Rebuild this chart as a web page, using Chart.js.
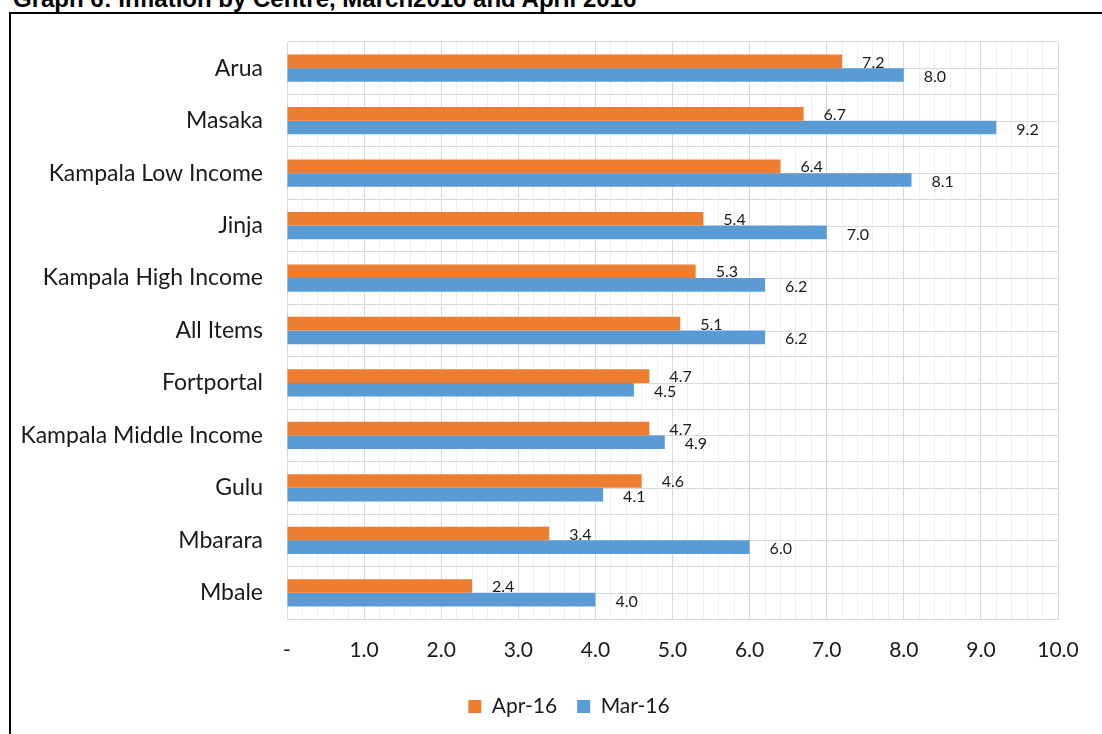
<!DOCTYPE html>
<html>
<head>
<meta charset="utf-8">
<script src="https://cdn.jsdelivr.net/npm/chart.js@4/dist/chart.umd.min.js"></script>
<style>
  html, body { margin: 0; padding: 0; background: #fff; overflow: hidden; }
  #wrap { position: relative; width: 1102px; height: 734px; overflow: hidden; }
  #title { position: absolute; left: 13px; top: -13px; font: bold 24px/1 "Liberation Sans", Arial, sans-serif; color: #000; white-space: nowrap; }
  #frame { position: absolute; left: 9px; top: 12px; width: 1200px; height: 800px; border-left: 2px solid #000; border-top: 2px solid #000; }
  canvas { position: absolute; left: 0; top: 0; }
</style>
</head>
<body>
<div id="wrap">
  <div id="title">Graph 6: Inflation by Centre, March2016 and April 2016</div>
  <div id="frame"></div>
  <canvas id="c" width="1102" height="734"></canvas>
</div>
<script>
const categories = ["Arua", "Masaka", "Kampala Low Income", "Jinja", "Kampala High Income", "All Items", "Fortportal", "Kampala Middle Income", "Gulu", "Mbarara", "Mbale"];
const apr16 = [7.2, 6.7, 6.4, 5.4, 5.3, 5.1, 4.7, 4.7, 4.6, 3.4, 2.4];
const mar16 = [8.0, 9.2, 8.1, 7.0, 6.2, 6.2, 4.5, 4.9, 4.1, 6.0, 4.0];
const seriesNames = ["Apr-16", "Mar-16"];
const xMin = 0, xMax = 10, xStep = 0.2;

const FONT = "Lato, 'Open Sans', sans-serif";
const isMajor = v => Math.abs(v - Math.round(v)) < 1e-6;

const centerLines = {
  id: 'centerLines',
  beforeDatasetsDraw(chart) {
    const {ctx, chartArea: a, scales: {y}} = chart;
    ctx.save();
    ctx.strokeStyle = '#d9d9d9';
    ctx.lineWidth = 1;
    categories.forEach((c, i) => {
      const py = Math.round(y.getPixelForValue(i)) + 0.5;
      ctx.beginPath();
      ctx.moveTo(a.left, py);
      ctx.lineTo(a.right, py);
      ctx.stroke();
    });
    ctx.restore();
  }
};

const dataLabels = {
  id: 'dataLabels',
  afterDatasetsDraw(chart) {
    const {ctx} = chart;
    ctx.save();
    ctx.font = "16px " + FONT;
    ctx.fillStyle = '#1a1a1a';
    ctx.textAlign = 'left';
    ctx.textBaseline = 'middle';
    chart.data.datasets.forEach((ds, di) => {
      const meta = chart.getDatasetMeta(di);
      meta.data.forEach((bar, i) => {
        const dy = di === 0 ? 1 : 2;
        ctx.fillText(ds.data[i].toFixed(1), bar.x + 20, bar.y + dy);
      });
    });
    ctx.restore();
  }
};

// shift the legend block slightly right, as in the original
const legendShift = {
  id: 'legendShift',
  afterLayout(chart) {
    const l = chart.legend;
    if (l) { l.left += 40; l.right += 40; }
  }
};

new Chart(document.getElementById('c'), {
  type: 'bar',
  data: {
    labels: categories,
    datasets: [
      { label: seriesNames[0], data: apr16, backgroundColor: '#ED7D31', categoryPercentage: 0.52, barPercentage: 1.0 },
      { label: seriesNames[1], data: mar16, backgroundColor: '#5B9BD5', categoryPercentage: 0.52, barPercentage: 1.0 }
    ]
  },
  options: {
    indexAxis: 'y',
    responsive: false,
    animation: false,
    layout: { padding: { left: 0, right: 44, top: 42, bottom: 7 } },
    plugins: {
      legend: {
        position: 'bottom',
        labels: { boxWidth: 13, boxHeight: 13, font: { family: FONT, size: 21 }, color: '#1a1a1a', padding: 20 }
      },
      tooltip: { enabled: false }
    },
    scales: {
      x: {
        min: xMin, max: xMax,
        afterFit(s) { s.height = 57; },
        ticks: {
          stepSize: xStep, autoSkip: false, maxRotation: 0, padding: 19,
          color: '#1a1a1a', font: { family: FONT, size: 21 },
          callback: v => isMajor(v) ? (Math.round(v) === 0 ? '-' : Number(v).toFixed(1)) : ''
        },
        grid: {
          drawTicks: false,
          color: c => (c.tick && isMajor(c.tick.value)) ? '#d9d9d9' : '#efefef'
        },
        border: { color: '#d9d9d9' }
      },
      y: {
        afterFit(s) { s.width = 287; },
        ticks: { color: '#1a1a1a', font: { family: FONT, size: 23 }, padding: 24 },
        grid: { drawTicks: false, color: '#d9d9d9' },
        border: { color: '#d9d9d9' }
      }
    }
  },
  plugins: [centerLines, dataLabels, legendShift]
});
</script>
</body>
</html>
